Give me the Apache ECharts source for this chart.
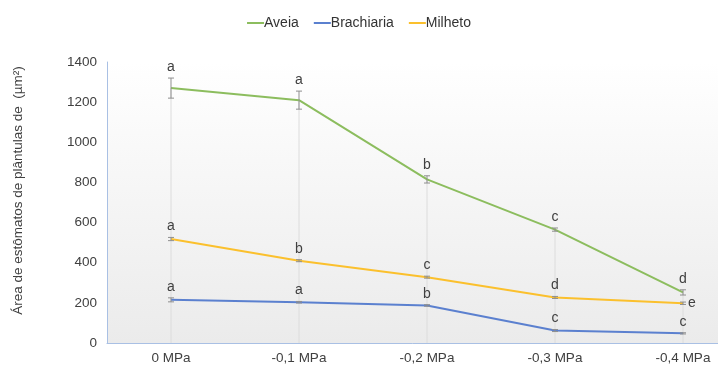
<!DOCTYPE html>
<html><head><meta charset="utf-8">
<script src="https://cdn.jsdelivr.net/npm/echarts@6/dist/echarts.min.js"></script>
<style>html,body{margin:0;padding:0;background:#fff}#c{width:718px;height:369px}</style>
</head><body><div id="c"></div>
<script>
var categories = ['0 MPa', '-0,1 MPa', '-0,2 MPa', '-0,3 MPa', '-0,4 MPa'];
var aveia = [1270, 1210, 815, 565, 252];
var brachiaria = [215, 203, 187, 62, 48];
var milheto = [518, 410, 328, 227, 198];
var aveiaErr = [50, 45, 18, 8, 13];
var brachiariaErr = [10, 4, 4, 5, 3];
var milhetoErr = [8, 5, 5, 5, 6];
var aveiaLetters = ['a', 'a', 'b', 'c', 'd'];
var brachiariaLetters = ['a', 'a', 'b', 'c', 'c'];
var milhetoLetters = ['a', 'b', 'c', 'd', 'e'];
var yTicks = [0, 200, 400, 600, 800, 1000, 1200, 1400];

var FONT = 'Liberation Sans, Arial, sans-serif';
var colors = { Aveia: '#8cbd5e', Brachiaria: '#5b80cf', Milheto: '#fbc02d' };

var chart = echarts.init(document.getElementById('c'));

function errSeries(name, vals, errs, letters, z) {
  var data = vals.map(function (v, i) { return [i, v, errs[i], letters[i]]; });
  return {
    type: 'custom', name: name + '_err', z: z, silent: true,
    data: data,
    renderItem: function (params, api) {
      var i = api.value(0), v = api.value(1), e = api.value(2);
      var top = api.coord([i, v + e]);
      var bot = api.coord([i, v - e]);
      var x = top[0];
      var cap = 3;
      var st = { stroke: '#8f8f8f', lineWidth: 1 };
      var letter = letters[params.dataIndex];
      var right = (name === 'Milheto' && params.dataIndex === vals.length - 1);
      return {
        type: 'group',
        children: [
          { type: 'line', shape: { x1: x, y1: top[1], x2: x, y2: bot[1] }, style: st },
          { type: 'line', shape: { x1: x - cap, y1: top[1], x2: x + cap, y2: top[1] }, style: st },
          { type: 'line', shape: { x1: x - cap, y1: bot[1], x2: x + cap, y2: bot[1] }, style: st },
          { type: 'text', x: right ? x + 5 : x, y: right ? api.coord([i, v])[1] : top[1] - 4,
            style: { text: letter, fill: '#404040', font: '14px ' + FONT,
              align: right ? 'left' : 'center', verticalAlign: right ? 'middle' : 'bottom' } }
        ]
      };
    }
  };
}

var dropData = aveia.map(function (v, i) {
  return [i, Math.max(v, brachiaria[i], milheto[i])];
});

var option = {
  animation: false,
  legend: {
    top: 11, left: 'center', itemWidth: 17, itemHeight: 2, itemGap: 15,
    icon: 'rect',
    textStyle: { fontFamily: FONT, fontSize: 14, color: '#333', padding: [0, 0, 0, -5] },
    data: ['Aveia', 'Brachiaria', 'Milheto']
  },
  grid: {
    left: 107, top: 62, height: 281, width: 640, show: true, borderWidth: 0,
    outerBoundsMode: 'none', containLabel: false,
    backgroundColor: new echarts.graphic.LinearGradient(0, 0, 0, 1, [
      { offset: 0, color: '#ffffff' }, { offset: 1, color: '#ebebeb' }
    ])
  },
  xAxis: {
    type: 'category', data: categories, boundaryGap: true,
    axisLine: { lineStyle: { color: '#a9c0e4', width: 1 } },
    axisTick: { show: false },
    axisLabel: { color: '#404040', fontFamily: FONT, fontSize: 13.5, margin: 8 }
  },
  yAxis: {
    type: 'value', min: yTicks[0], max: yTicks[yTicks.length - 1], interval: yTicks[1] - yTicks[0],
    name: 'Área de estômatos de plântulas de  (µm²)', nameLocation: 'middle', nameRotate: 90, nameGap: 82,
    nameTextStyle: { color: '#404040', fontFamily: FONT, fontSize: 13.5, padding: [0, 0, 0, 24] },
    axisLine: { show: true, lineStyle: { color: '#a9c0e4', width: 1 } },
    axisTick: { show: false },
    splitLine: { show: false },
    axisLabel: { color: '#404040', fontFamily: FONT, fontSize: 13.5, margin: 10,
      formatter: function (v) { return String(v); } }
  },
  series: [
    {
      type: 'custom', name: 'drop', z: 1, silent: true, data: dropData,
      renderItem: function (params, api) {
        var p = api.coord([api.value(0), api.value(1)]);
        var b = api.coord([api.value(0), 0]);
        return { type: 'line', shape: { x1: p[0], y1: p[1], x2: b[0], y2: b[1] },
          style: { stroke: '#dcdcdc', lineWidth: 1 } };
      }
    },
    { type: 'line', name: 'Aveia', data: aveia, showSymbol: false, z: 3,
      lineStyle: { color: colors.Aveia, width: 2 }, itemStyle: { color: colors.Aveia } },
    { type: 'line', name: 'Brachiaria', data: brachiaria, showSymbol: false, z: 3,
      lineStyle: { color: colors.Brachiaria, width: 2 }, itemStyle: { color: colors.Brachiaria } },
    { type: 'line', name: 'Milheto', data: milheto, showSymbol: false, z: 3,
      lineStyle: { color: colors.Milheto, width: 2 }, itemStyle: { color: colors.Milheto } },
    errSeries('Aveia', aveia, aveiaErr, aveiaLetters, 4),
    errSeries('Brachiaria', brachiaria, brachiariaErr, brachiariaLetters, 4),
    errSeries('Milheto', milheto, milhetoErr, milhetoLetters, 4)
  ]
};
chart.setOption(option);
</script>
</body></html>
